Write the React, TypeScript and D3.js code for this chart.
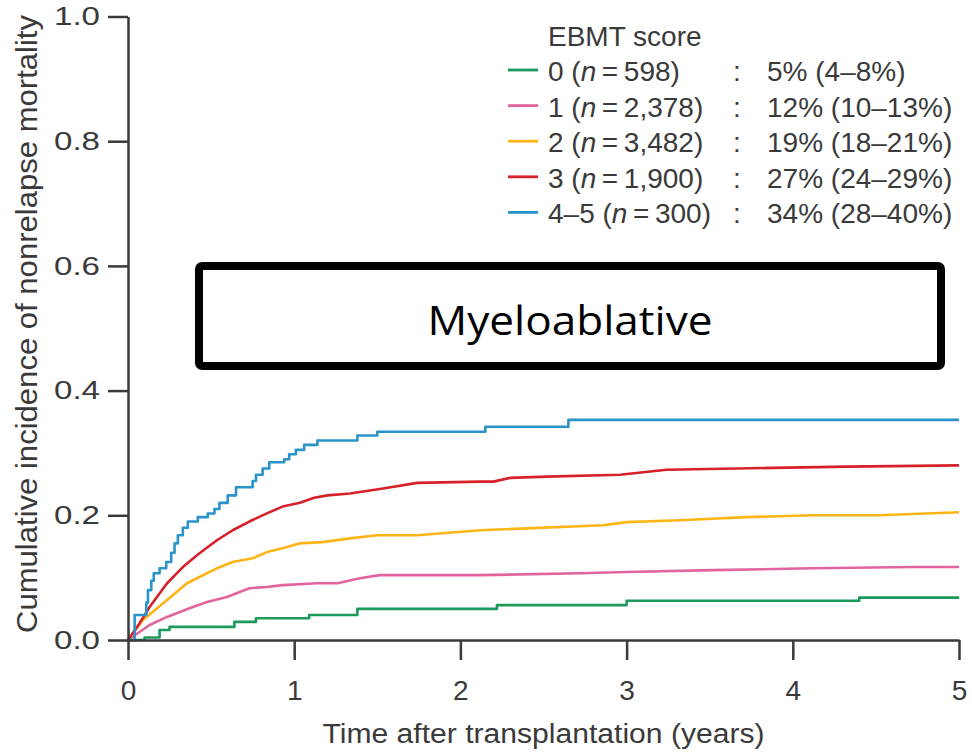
import React, { useEffect, useRef } from "react";
import * as d3 from "d3";

const W = 972;
const H = 753;

const xTicks = [0, 1, 2, 3, 4, 5];
const yTicks = [0, 0.2, 0.4, 0.6, 0.8, 1.0];

const legendTitle = "EBMT score";
const seriesNames = ["0", "1", "2", "3", "4\u20135"];
const seriesN = ["598", "2,378", "3,482", "1,900", "300"];
const seriesPct = ["5% (4\u20138%)", "12% (10\u201313%)", "19% (18\u201321%)", "27% (24\u201329%)", "34% (28\u201340%)"];
const seriesColors = ["#1b9a5c", "#e2649f", "#fdb515", "#d6202a", "#2a94ca"];

// score 0 (step curve)
const score0: [number, number][] = [
  [0, 0], [0.1, 0.004], [0.19, 0.016], [0.25, 0.021], [0.64, 0.029], [0.77, 0.035],
  [1.09, 0.04], [1.38, 0.05], [2.22, 0.056], [3.0, 0.063], [4.4, 0.068], [5.0, 0.068],
];
// score 1
const score1: [number, number][] = [
  [0, 0], [0.13, 0.024], [0.235, 0.037], [0.37, 0.051], [0.475, 0.061], [0.595, 0.069],
  [0.73, 0.083], [0.835, 0.085], [0.93, 0.088], [1.14, 0.091], [1.26, 0.091], [1.395, 0.099],
  [1.515, 0.104], [2.12, 0.104], [2.72, 0.107], [3.0, 0.109], [3.52, 0.112], [4.12, 0.115],
  [4.72, 0.117], [5.0, 0.117],
];
// score 2
const score2: [number, number][] = [
  [0, 0], [0.09, 0.032], [0.235, 0.064], [0.355, 0.091], [0.43, 0.101], [0.535, 0.115],
  [0.63, 0.125], [0.75, 0.131], [0.835, 0.141], [0.93, 0.147], [1.035, 0.155], [1.17, 0.157],
  [1.335, 0.163], [1.5, 0.168], [1.74, 0.168], [2.12, 0.176], [2.86, 0.184], [3.0, 0.189],
  [3.32, 0.192], [3.72, 0.197], [4.12, 0.2], [4.52, 0.2], [5.0, 0.205],
];
// score 3
const score3: [number, number][] = [
  [0, 0], [0.07, 0.027], [0.13, 0.053], [0.235, 0.091], [0.33, 0.117], [0.43, 0.139],
  [0.535, 0.16], [0.63, 0.176], [0.73, 0.19], [0.835, 0.203], [0.93, 0.214], [1.035, 0.22],
  [1.12, 0.228], [1.2, 0.232], [1.335, 0.235], [1.535, 0.243], [1.74, 0.252], [2.12, 0.254],
  [2.2, 0.254], [2.3, 0.26], [2.52, 0.262], [2.96, 0.265], [3.24, 0.273], [3.88, 0.276],
  [4.33, 0.278], [5.0, 0.28],
];
// score 4-5 (step curve)
const score45: [number, number][] = [
  [0, 0], [0.04, 0.04], [0.11, 0.06], [0.12, 0.08], [0.14, 0.095], [0.155, 0.107],
  [0.19, 0.115], [0.23, 0.125], [0.26, 0.14], [0.28, 0.155], [0.3, 0.168], [0.33, 0.18],
  [0.36, 0.19], [0.42, 0.197], [0.48, 0.203], [0.52, 0.21], [0.55, 0.22], [0.6, 0.232],
  [0.65, 0.245], [0.75, 0.255], [0.77, 0.265], [0.81, 0.275], [0.85, 0.285], [0.94, 0.29],
  [0.97, 0.298], [1.01, 0.305], [1.06, 0.313], [1.14, 0.32], [1.38, 0.328], [1.5, 0.334],
  [2.15, 0.342], [2.65, 0.353], [5.0, 0.353],
];

const seriesData = [score0, score1, score2, score3, score45];
const seriesStep = [true, false, false, false, true];

const X0 = 128, X1 = 959, Y0 = 640, Y1 = 16.5;
const AXIS = "#3a3a3a";
const FONT = "'Liberation Sans', Arial, Helvetica, sans-serif";

export default function App() {
  const xAxisRef = useRef<SVGGElement>(null);
  const yAxisRef = useRef<SVGGElement>(null);

  const x = d3.scaleLinear().domain([0, 5]).range([X0, X1]);
  const y = d3.scaleLinear().domain([0, 1]).range([Y0, Y1]);

  useEffect(() => {
    const xa = d3.axisBottom(x).tickValues(xTicks).tickFormat(d3.format("d")).tickSize(20).tickSizeOuter(0).tickPadding(20);
    const ya = d3.axisLeft(y).tickValues(yTicks).tickFormat(d3.format(".1f")).tickSize(20).tickSizeOuter(0).tickPadding(8);
    const gx = d3.select(xAxisRef.current!);
    gx.call(xa as any);
    const gy = d3.select(yAxisRef.current!);
    gy.call(ya as any);
    [gx, gy].forEach((g) => {
      g.selectAll("path.domain").attr("stroke", AXIS).attr("stroke-width", 2.5);
      g.selectAll(".tick line").attr("stroke", AXIS).attr("stroke-width", 2.5);
      g.selectAll(".tick text").attr("fill", "#3a3a3a").attr("font-family", FONT);
    });
    gy.selectAll(".tick text")
      .attr("font-size", 26)
      .attr("textLength", 46)
      .attr("lengthAdjust", "spacingAndGlyphs");
    gx.selectAll(".tick text").attr("dy", "0.71em").attr("font-size", 28);
  }, []);

  const thin = "\u2009";

  return (
    <div style={{ position: "absolute", left: 0, top: 0, width: W, height: H, background: "#fff" }}>
      <svg width={W} height={H} viewBox={`0 0 ${W} ${H}`} style={{ display: "block" }}>
        <rect x={0} y={0} width={W} height={H} fill="#fff" />
        {seriesData.map((data, i) => {
          const line = d3
            .line<[number, number]>()
            .x((d) => x(d[0]))
            .y((d) => y(d[1]))
            .curve(seriesStep[i] ? d3.curveStepAfter : d3.curveLinear);
          return (
            <path key={i} d={line(data) || ""} fill="none" stroke={seriesColors[i]} strokeWidth={2.6} strokeLinejoin="round" />
          );
        })}
        <g ref={xAxisRef} transform={`translate(0,${Y0})`} />
        <g ref={yAxisRef} transform={`translate(${X0},0)`} />

        <text
          x={X0 + (X1 - X0) / 2}
          y={743}
          textAnchor="middle"
          fontFamily={FONT}
          fontSize={27}
          fill="#3a3a3a"
          textLength={442}
          lengthAdjust="spacingAndGlyphs"
        >
          Time after transplantation (years)
        </text>
        <text
          transform="translate(37,324) rotate(-90)"
          textAnchor="middle"
          fontFamily={FONT}
          fontSize={29}
          fill="#3a3a3a"
          textLength={618}
          lengthAdjust="spacingAndGlyphs"
        >
          Cumulative incidence of nonrelapse mortality
        </text>

        {/* Legend */}
        <text x={548} y={46} fontFamily={FONT} fontSize={28} fill="#3a3a3a">
          {legendTitle}
        </text>
        {seriesNames.map((name, i) => {
          const ry = 70 + i * 35.6;
          return (
            <g key={i}>
              <line x1={508} x2={538} y1={ry} y2={ry} stroke={seriesColors[i]} strokeWidth={2.8} />
              <text x={548} y={ry + 11} fontFamily={FONT} fontSize={28} fill="#3a3a3a">
                {name} (<tspan fontStyle="italic">n</tspan>
                {thin + "=" + thin + seriesN[i] + ")"}
              </text>
              <text x={733} y={ry + 11} fontFamily={FONT} fontSize={28} fill="#3a3a3a">
                :
              </text>
              <text x={767} y={ry + 11} fontFamily={FONT} fontSize={28} fill="#3a3a3a">
                {seriesPct[i]}
              </text>
            </g>
          );
        })}

        {/* Myeloablative box */}
        <rect x={199} y={266} width={742} height={100} rx={3} ry={3} fill="none" stroke="#000" strokeWidth={8} />
        <text
          x={570}
          y={335}
          textAnchor="middle"
          fontFamily="'Open Sans', 'Noto Sans', sans-serif"
          fontSize={40}
          fill="#000"
          textLength={285}
          lengthAdjust="spacingAndGlyphs"
        >
          Myeloablative
        </text>
      </svg>
    </div>
  );
}
